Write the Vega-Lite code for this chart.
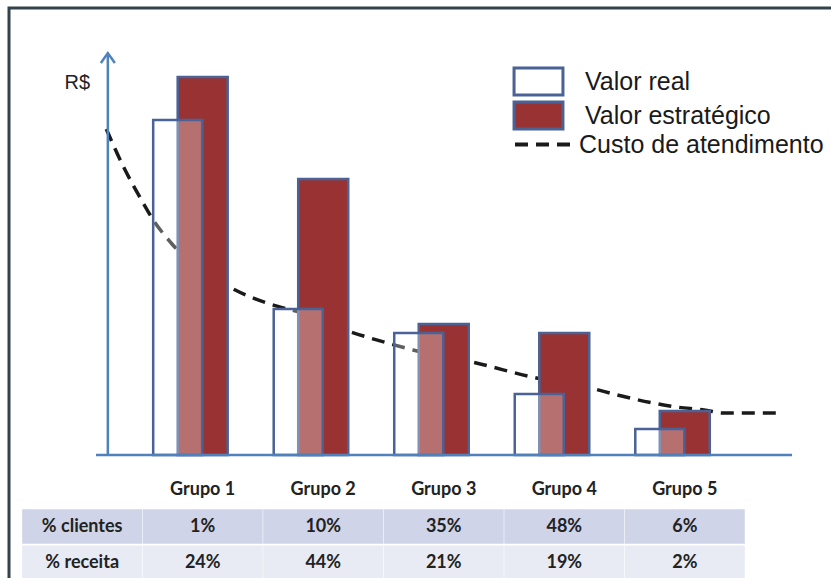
{
  "$schema": "https://vega.github.io/schema/vega-lite/v6.json",
  "width": 826,
  "height": 574,
  "autosize": {"type": "none"},
  "padding": {"left": 9, "top": 8, "right": -4, "bottom": -4},
  "background": "white",
  "config": {
    "view": {"stroke": "#33434b", "strokeWidth": 3},
    "legend": {"padding": 0, "titlePadding": 0, "labelLimit": 400}
  },
  "datasets": {
    "grupos": [
      {"grupo": 1, "serie": "Valor real", "valor": 83.75},
      {"grupo": 1, "serie": "Valor estratégico", "valor": 94.5},
      {"grupo": 2, "serie": "Valor real", "valor": 36.5},
      {"grupo": 2, "serie": "Valor estratégico", "valor": 69},
      {"grupo": 3, "serie": "Valor real", "valor": 30.5},
      {"grupo": 3, "serie": "Valor estratégico", "valor": 32.75},
      {"grupo": 4, "serie": "Valor real", "valor": 15.25},
      {"grupo": 4, "serie": "Valor estratégico", "valor": 30.5},
      {"grupo": 5, "serie": "Valor real", "valor": 6.5},
      {"grupo": 5, "serie": "Valor estratégico", "valor": 11}
    ],
    "custo": [
      {"x": 0.2, "custo": 81.5, "serie": "Custo de atendimento"},
      {"x": 0.344, "custo": 72, "serie": "Custo de atendimento"},
      {"x": 0.492, "custo": 63.75, "serie": "Custo de atendimento"},
      {"x": 0.59, "custo": 58.75, "serie": "Custo de atendimento"},
      {"x": 0.738, "custo": 53, "serie": "Custo de atendimento"},
      {"x": 1.27, "custo": 41.25, "serie": "Custo de atendimento"},
      {"x": 1.533, "custo": 38, "serie": "Custo de atendimento"},
      {"x": 1.82, "custo": 35.5, "serie": "Custo de atendimento"},
      {"x": 2.23, "custo": 30.75, "serie": "Custo de atendimento"},
      {"x": 2.533, "custo": 28, "serie": "Custo de atendimento"},
      {"x": 2.746, "custo": 26.25, "serie": "Custo de atendimento"},
      {"x": 3.27, "custo": 23, "serie": "Custo de atendimento"},
      {"x": 3.73, "custo": 19.5, "serie": "Custo de atendimento"},
      {"x": 4.22, "custo": 16.75, "serie": "Custo de atendimento"},
      {"x": 4.44, "custo": 15, "serie": "Custo de atendimento"},
      {"x": 4.93, "custo": 12, "serie": "Custo de atendimento"},
      {"x": 5.16, "custo": 11.25, "serie": "Custo de atendimento"},
      {"x": 5.32, "custo": 10.5, "serie": "Custo de atendimento"},
      {"x": 5.77, "custo": 10.5, "serie": "Custo de atendimento"}
    ],
    "tabela": [
      {"col": 1, "linha": "Grupo", "texto": "Grupo 1"},
      {"col": 2, "linha": "Grupo", "texto": "Grupo 2"},
      {"col": 3, "linha": "Grupo", "texto": "Grupo 3"},
      {"col": 4, "linha": "Grupo", "texto": "Grupo 4"},
      {"col": 5, "linha": "Grupo", "texto": "Grupo 5"},
      {"col": 0, "linha": "% clientes", "texto": "% clientes"},
      {"col": 1, "linha": "% clientes", "texto": "1%"},
      {"col": 2, "linha": "% clientes", "texto": "10%"},
      {"col": 3, "linha": "% clientes", "texto": "35%"},
      {"col": 4, "linha": "% clientes", "texto": "48%"},
      {"col": 5, "linha": "% clientes", "texto": "6%"},
      {"col": 0, "linha": "% receita", "texto": "% receita"},
      {"col": 1, "linha": "% receita", "texto": "24%"},
      {"col": 2, "linha": "% receita", "texto": "44%"},
      {"col": 3, "linha": "% receita", "texto": "21%"},
      {"col": 4, "linha": "% receita", "texto": "19%"},
      {"col": 5, "linha": "% receita", "texto": "2%"}
    ]
  },
  "layer": [
    {
      "layer": [
        {
          "data": {"name": "custo"},
          "mark": {"type": "line", "interpolate": "monotone", "color": "#1a1a1a", "strokeWidth": 3.5},
          "encoding": {
            "x": {"field": "x", "type": "quantitative", "scale": {"domain": [-0.5656, 6.2049], "nice": false, "zero": false}, "axis": null},
            "y": {"field": "custo", "type": "quantitative", "scale": {"domain": [0, 100], "range": [447, 47], "nice": false, "zero": false}, "axis": null},
            "strokeDash": {
              "field": "serie", "type": "nominal",
              "scale": {"domain": ["Custo de atendimento"], "range": [[13, 8]]},
              "legend": {"orient": "none", "legendX": 504, "legendY": 106, "title": null, "symbolType": "stroke", "symbolSize": 3249, "symbolStrokeWidth": 4, "symbolStrokeColor": "#1a1a1a", "symbolDash": [14, 7], "labelFont": "Liberation Sans", "labelFontSize": 25, "labelColor": "#1a1a1a", "labelOffset": 5}
            }
          }
        },
        {
          "data": {"name": "grupos"},
          "transform": [{"filter": "datum.serie === 'Valor estratégico'"}],
          "mark": {"type": "bar", "width": 50, "stroke": "#4a6296", "strokeWidth": 2.5, "fillOpacity": 1},
          "encoding": {
            "x": {"field": "grupo", "type": "quantitative", "scale": {"domain": [-0.5656, 6.2049], "nice": false, "zero": false}, "axis": null},
            "y": {"field": "valor", "type": "quantitative", "scale": {"domain": [0, 100], "range": [447, 47], "nice": false, "zero": false}, "axis": null},
            "fill": {
              "field": "serie", "type": "nominal",
              "scale": {"domain": ["Valor estratégico"], "range": ["#993333"]},
              "legend": {"orient": "none", "legendX": 513, "legendY": 91, "title": null, "symbolType": "M-1.63,-0.9H1.63V0.9H-1.63Z", "symbolSize": 900, "symbolStrokeColor": "#4a6296", "symbolStrokeWidth": 3, "symbolOpacity": 1, "labelFont": "Liberation Sans", "labelFontSize": 25, "labelColor": "#1a1a1a", "labelOffset": 30}
            }
          }
        },
        {
          "data": {"name": "grupos"},
          "transform": [{"filter": "datum.serie === 'Valor real'"}],
          "mark": {"type": "bar", "width": 49, "xOffset": -25, "fill": "#ffffff", "strokeWidth": 2.5, "fillOpacity": 0.3, "strokeOpacity": 1},
          "encoding": {
            "x": {"field": "grupo", "type": "quantitative", "scale": {"domain": [-0.5656, 6.2049], "nice": false, "zero": false}, "axis": null},
            "y": {"field": "valor", "type": "quantitative", "scale": {"domain": [0, 100], "range": [447, 47], "nice": false, "zero": false}, "axis": null},
            "stroke": {
              "field": "serie", "type": "nominal",
              "scale": {"domain": ["Valor real"], "range": ["#4a6296"]},
              "legend": {"orient": "none", "legendX": 513, "legendY": 57, "title": null, "symbolType": "M-1.63,-0.9H1.63V0.9H-1.63Z", "symbolSize": 900, "symbolFillColor": "#ffffff", "symbolStrokeWidth": 3, "symbolOpacity": 1, "labelFont": "Liberation Sans", "labelFontSize": 25, "labelColor": "#1a1a1a", "labelOffset": 30}
            }
          }
        },
        {
          "data": {"values": [{}]},
          "mark": {"type": "rule", "color": "#4f81bd", "strokeWidth": 2.5},
          "encoding": {
            "x": {"datum": 0.115, "type": "quantitative", "scale": {"domain": [-0.5656, 6.2049], "nice": false, "zero": false}, "axis": null},
            "x2": {"datum": 5.89},
            "y": {"datum": 0, "type": "quantitative", "scale": {"domain": [0, 100], "range": [447, 47], "nice": false, "zero": false}, "axis": null}
          }
        },
        {
          "data": {"values": [{}]},
          "mark": {"type": "rule", "color": "#4f81bd", "strokeWidth": 2.5},
          "encoding": {
            "x": {"datum": 0.213, "type": "quantitative", "scale": {"domain": [-0.5656, 6.2049], "nice": false, "zero": false}, "axis": null},
            "y": {"datum": 0, "type": "quantitative", "scale": {"domain": [0, 100], "range": [447, 47], "nice": false, "zero": false}, "axis": null},
            "y2": {"datum": 100}
          }
        },
        {
          "data": {"values": [{}]},
          "mark": {"type": "point", "shape": "M-1,0.7L0,-0.7L1,0.7", "size": 196, "filled": false, "stroke": "#4f81bd", "strokeWidth": 2.5, "opacity": 1},
          "encoding": {
            "x": {"datum": 0.213, "type": "quantitative", "scale": {"domain": [-0.5656, 6.2049], "nice": false, "zero": false}, "axis": null},
            "y": {"datum": 99.25, "type": "quantitative", "scale": {"domain": [0, 100], "range": [447, 47], "nice": false, "zero": false}, "axis": null}
          }
        },
        {
          "data": {"values": [{}]},
          "mark": {"type": "text", "text": "R$", "font": "Liberation Sans", "fontSize": 20, "color": "#222222", "align": "center", "baseline": "middle"},
          "encoding": {
            "x": {"datum": -0.04, "type": "quantitative", "scale": {"domain": [-0.5656, 6.2049], "nice": false, "zero": false}, "axis": null},
            "y": {"datum": 93, "type": "quantitative", "scale": {"domain": [0, 100], "range": [447, 47], "nice": false, "zero": false}, "axis": null}
          }
        }
      ]
    },
    {
      "data": {"name": "tabela"},
      "layer": [
        {
          "transform": [{"filter": "datum.linha !== 'Grupo'"}],
          "mark": {"type": "point", "shape": "M-1,-0.287H1V0.287H-1Z", "size": 14400, "filled": true, "strokeWidth": 0, "opacity": 1},
          "encoding": {
            "x": {"field": "col", "type": "quantitative", "scale": {"domain": [-0.5656, 6.2049], "nice": false, "zero": false}, "axis": null},
            "y": {"field": "linha", "type": "nominal", "scale": {"type": "band", "domain": ["Grupo", "% clientes", "% receita"], "range": [465, 572], "paddingInner": 0.05, "paddingOuter": 0}, "axis": null},
            "color": {"condition": {"test": "datum.linha === '% clientes'", "value": "#cfd4e8"}, "value": "#e8ebf4"}
          }
        },
        {
          "mark": {"type": "text", "font": "Lato", "fontSize": 18, "fontWeight": "bold", "color": "#222222", "align": "center", "baseline": "middle"},
          "encoding": {
            "x": {"field": "col", "type": "quantitative", "scale": {"domain": [-0.5656, 6.2049], "nice": false, "zero": false}, "axis": null},
            "y": {"field": "linha", "type": "nominal", "scale": {"type": "band", "domain": ["Grupo", "% clientes", "% receita"], "range": [465, 572], "paddingInner": 0.05, "paddingOuter": 0}, "axis": null},
            "text": {"field": "texto", "type": "nominal"}
          }
        }
      ]
    }
  ],
  "resolve": {"scale": {"y": "independent"}}
}
